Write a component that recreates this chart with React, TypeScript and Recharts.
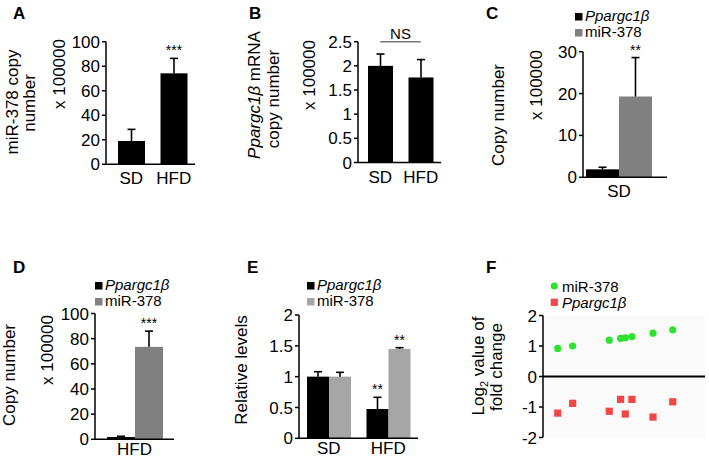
import React from "react";
import {
  Bar,
  BarChart,
  CartesianGrid,
  ReferenceLine,
  Scatter,
  ScatterChart,
  XAxis,
  YAxis,
} from "recharts";

// A / B: copy numbers by diet (x 100000)
const diets = ["SD", "HFD"];
const mirCopy = [19, 74.2];
const mirCopyErr = [9.5, 12.2];
const mirCopySig = ["", "***"];
const pgcCopy = [2.0, 1.76];
const pgcCopyErr = [0.245, 0.37];

// C / D: both transcripts within one diet
const sdGroup = ["SD"];
const sdPgc = [1.9];
const sdPgcErr = [0.5];
const sdMir = [19.3];
const sdMirErr = [9.3];
const sdMirSig = ["**"];
const hfdGroup = ["HFD"];
const hfdPgc = [1.8];
const hfdPgcErr = [0.6];
const hfdMir = [73.5];
const hfdMirErr = [12.5];
const hfdMirSig = ["***"];

// E: relative levels
const relPgc = [1.0, 0.475];
const relPgcErr = [0.08, 0.19];
const relPgcSig = ["", "**"];
const relMir = [1.0, 1.45];
const relMirErr = [0.07, 0.02];
const relMirSig = ["", "**"];

// F: log2 fold change per sample
const samplePos = [9.1, 18.3, 40.9, 47.9, 50.8, 54.9, 67.9, 80.1];
const fcMir = [0.92, 1.0, 1.19, 1.25, 1.27, 1.31, 1.42, 1.53];
const fcPgc = [-1.2, -0.88, -1.14, -0.75, -1.23, -0.75, -1.33, -0.83];

const ticksA = [0, 20, 40, 60, 80, 100];
const ticksB = [0, 0.5, 1, 1.5, 2, 2.5];
const ticksC = [0, 10, 20, 30];
const ticksE = [0, 0.5, 1, 1.5, 2];
const ticksF = [-2, -1, 0, 1, 2];

const FONT = '"Liberation Sans", Arial, Helvetica, sans-serif';
const GRAY_DARK = "#808080";
const GRAY_LIGHT = "#a6a6a6";
const GREEN = "#2fe22f";
const RED = "#f04646";

const axisLine = { stroke: "#000", strokeWidth: 1.5 };
const tickStyle = { fill: "#000", fontSize: 17 };
const catTick = { fill: "#000", fontSize: 17 };

const dataA = diets.map((d, i) => ({ name: d, v: mirCopy[i], e: mirCopyErr[i], s: mirCopySig[i] }));
const dataB = diets.map((d, i) => ({ name: d, v: pgcCopy[i], e: pgcCopyErr[i], s: "" }));
const dataC = sdGroup.map((d, i) => ({
  name: d, p: sdPgc[i], pe: sdPgcErr[i], ps: "", m: sdMir[i], me: sdMirErr[i], ms: sdMirSig[i],
}));
const dataD = hfdGroup.map((d, i) => ({
  name: d, p: hfdPgc[i], pe: hfdPgcErr[i], ps: "", m: hfdMir[i], me: hfdMirErr[i], ms: hfdMirSig[i],
}));
const dataE = diets.map((d, i) => ({
  name: d, p: relPgc[i], pe: relPgcErr[i], ps: relPgcSig[i], m: relMir[i], me: relMirErr[i], ms: relMirSig[i],
}));
const dataFMir = samplePos.map((x, i) => ({ x, y: fcMir[i] }));
const dataFPgc = samplePos.map((x, i) => ({ x, y: fcPgc[i] }));

// bar + upper whisker + significance stars, sized from the bar's own scale
function barWithError(valueKey: string, errKey: string, sigKey: string) {
  return (props: any) => {
    const { x, y, width, height, fill, payload } = props;
    const v = payload[valueKey];
    const e = payload[errKey] ?? 0;
    const unit = v ? height / v : 0;
    const cx = x + width / 2;
    const top = y - e * unit;
    const sig = payload[sigKey];
    return (
      <g>
        <rect x={x} y={y} width={width} height={height} fill={fill} />
        {e > 0 && (
          <>
            <line x1={cx} x2={cx} y1={y} y2={top} stroke="#000" strokeWidth={1.6} />
            <line x1={cx - 4} x2={cx + 4} y1={top} y2={top} stroke="#000" strokeWidth={1.6} />
          </>
        )}
        {sig && (
          <text x={cx} y={top - 3} textAnchor="middle" fontSize={14} fill="#000">
            {sig}
          </text>
        )}
      </g>
    );
  };
}

function Box({ left, top, children }: { left: number; top: number; children: React.ReactNode }) {
  return <div style={{ position: "absolute", left, top }}>{children}</div>;
}

function VTitle({ x, y, children, size = 17 }: { x: number; y: number; children: React.ReactNode; size?: number }) {
  return (
    <text x={x} y={y} transform={`rotate(-90 ${x} ${y})`} textAnchor="middle" fontSize={size} fill="#000">
      {children}
    </text>
  );
}

function Letter({ x, y, t }: { x: number; y: number; t: string }) {
  return (
    <text x={x} y={y} fontSize={17} fontWeight="bold" fill="#000">
      {t}
    </text>
  );
}

function SquareKey({ x, y, color, children }: { x: number; y: number; color: string; children: React.ReactNode }) {
  return (
    <g>
      <rect x={x} y={y - 7} width={7.5} height={7.5} fill={color} />
      <text x={x + 10} y={y + 0.5} fontSize={15} fill="#000">
        {children}
      </text>
    </g>
  );
}

const Pgc = () => <tspan fontStyle="italic">Ppargc1β</tspan>;

export default function App() {
  return (
    <div
      style={{
        position: "absolute",
        left: 0,
        top: 0,
        width: 709,
        height: 462,
        background: "#fff",
        fontFamily: FONT,
        overflow: "hidden",
      }}
    >
      {/* A */}
      <Box left={0} top={0}>
        <BarChart width={230} height={215} data={dataA} barSize={27}
          margin={{ top: 41.7, right: 35, bottom: 30.7, left: 66 }}>
          <XAxis dataKey="name" axisLine={axisLine} tickLine={false} tick={catTick}
            tickSize={6} height={20} padding={{ left: 4, right: 0 }} />
          <YAxis domain={[0, 100]} ticks={ticksA} width={40} axisLine={axisLine}
            tickLine={axisLine} tickSize={4} tick={tickStyle} interval={0} />
          <Bar dataKey="v" fill="#000" isAnimationActive={false} shape={barWithError("v", "e", "s")} />
        </BarChart>
      </Box>

      {/* B */}
      <Box left={230} top={0}>
        <BarChart width={230} height={215} data={dataB} barSize={25}
          margin={{ top: 41.7, right: 19, bottom: 32.5, left: 88 }}>
          <XAxis dataKey="name" axisLine={axisLine} tickLine={false} tick={catTick}
            tickSize={6} height={20} padding={{ left: 2, right: 0 }} />
          <YAxis domain={[0, 2.5]} ticks={ticksB} width={40} axisLine={axisLine}
            tickLine={axisLine} tickSize={4} tick={tickStyle} interval={0} />
          <Bar dataKey="v" fill="#000" isAnimationActive={false} shape={barWithError("v", "e", "s")} />
          <ReferenceLine
            segment={[{ x: "SD", y: 2.5 }, { x: "HFD", y: 2.5 }]}
            stroke="#777" strokeWidth={1.5} ifOverflow="visible"
            label={{ value: "NS", position: "top", fill: "#000", fontSize: 15, offset: 3 }}
          />
        </BarChart>
      </Box>

      {/* C */}
      <Box left={460} top={0}>
        <BarChart width={249} height={215} data={dataC} barSize={33} barGap={0}
          margin={{ top: 51.7, right: 42, bottom: 17.7, left: 83 }}>
          <XAxis dataKey="name" axisLine={axisLine} tickLine={false} tick={catTick}
            tickSize={6} height={20} padding={{ left: 0, right: 12 }} />
          <YAxis domain={[0, 30]} ticks={ticksC} width={40} axisLine={axisLine}
            tickLine={axisLine} tickSize={4} tick={tickStyle} interval={0} />
          <Bar dataKey="p" fill="#000" isAnimationActive={false} shape={barWithError("p", "pe", "ps")} />
          <Bar dataKey="m" fill={GRAY_DARK} isAnimationActive={false} shape={barWithError("m", "me", "ms")} />
        </BarChart>
      </Box>

      {/* D */}
      <Box left={0} top={230}>
        <BarChart width={230} height={232} data={dataD} barSize={28} barGap={0}
          margin={{ top: 83.5, right: 56, bottom: 2.7, left: 55 }}>
          <XAxis dataKey="name" axisLine={axisLine} tickLine={false} tick={catTick}
            tickSize={2} height={20} />
          <YAxis domain={[0, 100]} ticks={ticksA} width={40} axisLine={axisLine}
            tickLine={axisLine} tickSize={4} tick={tickStyle} interval={0} />
          <Bar dataKey="p" fill="#000" isAnimationActive={false} shape={barWithError("p", "pe", "ps")} />
          <Bar dataKey="m" fill={GRAY_DARK} isAnimationActive={false} shape={barWithError("m", "me", "ms")} />
        </BarChart>
      </Box>

      {/* E */}
      <Box left={230} top={230}>
        <BarChart width={230} height={232} data={dataE} barSize={22} barGap={0}
          margin={{ top: 85, right: 42, bottom: 3.7, left: 29 }}>
          <XAxis dataKey="name" axisLine={axisLine} tickLine={false} tick={catTick}
            tickSize={2} height={20} />
          <YAxis domain={[0, 2]} ticks={ticksE} width={40} axisLine={axisLine}
            tickLine={axisLine} tickSize={4} tick={tickStyle} interval={0} />
          <Bar dataKey="p" fill="#000" isAnimationActive={false} shape={barWithError("p", "pe", "ps")} />
          <Bar dataKey="m" fill={GRAY_LIGHT} isAnimationActive={false} shape={barWithError("m", "me", "ms")} />
        </BarChart>
      </Box>

      {/* F */}
      <Box left={460} top={230}>
        <ScatterChart width={249} height={232} margin={{ top: 85.5, right: 4, bottom: 24.5, left: 43 }}>
          <CartesianGrid horizontal={false} vertical={false} fill="#fafafa" />
          <XAxis type="number" dataKey="x" domain={[0, 100]} hide />
          <YAxis type="number" dataKey="y" domain={[-2, 2]} ticks={ticksF} width={40}
            axisLine={axisLine} tickLine={axisLine} tickSize={4} tick={tickStyle} interval={0} />
          <ReferenceLine y={0} stroke="#000" strokeWidth={2} />
          <Scatter data={dataFMir} fill={GREEN} isAnimationActive={false}
            shape={(p: any) => <circle cx={p.cx} cy={p.cy} r={3.6} fill={GREEN} />} />
          <Scatter data={dataFPgc} fill={RED} isAnimationActive={false}
            shape={(p: any) => <rect x={p.cx - 3.6} y={p.cy - 3.6} width={7.2} height={7.2} fill={RED} />} />
        </ScatterChart>
      </Box>

      {/* titles, panel letters and keys */}
      <svg width={709} height={462} style={{ position: "absolute", left: 0, top: 0, pointerEvents: "none" }}>
        <Letter x={13} y={18.5} t="A" />
        <Letter x={249} y={18.5} t="B" />
        <Letter x={486} y={18.5} t="C" />
        <Letter x={13} y={273} t="D" />
        <Letter x={247} y={273} t="E" />
        <Letter x={486} y={273} t="F" />

        <VTitle x={18} y={102}>miR-378 copy</VTitle>
        <VTitle x={35} y={103}>number</VTitle>
        <VTitle x={65} y={74}>x 100000</VTitle>

        <VTitle x={260} y={95}>
          <Pgc /> mRNA
        </VTitle>
        <VTitle x={279} y={99}>copy number</VTitle>
        <VTitle x={315} y={75}>x 100000</VTitle>

        <VTitle x={504} y={115}>Copy number</VTitle>
        <VTitle x={542} y={85}>x 100000</VTitle>

        <VTitle x={15} y={375}>Copy number</VTitle>
        <VTitle x={53} y={350}>x 100000</VTitle>

        <VTitle x={247} y={370}>Relative levels</VTitle>

        <VTitle x={484} y={366}>
          <tspan>Log</tspan>
          <tspan fontSize={11} dy={4}>2</tspan>
          <tspan dy={-4}> value of</tspan>
        </VTitle>
        <VTitle x={502} y={367}>fold change</VTitle>

        <SquareKey x={575} y={20} color="#000"><Pgc /></SquareKey>
        <SquareKey x={575} y={36} color={GRAY_DARK}>miR-378</SquareKey>

        <SquareKey x={95} y={289} color="#000"><Pgc /></SquareKey>
        <SquareKey x={95} y={305} color={GRAY_DARK}>miR-378</SquareKey>

        <SquareKey x={307} y={289} color="#000"><Pgc /></SquareKey>
        <SquareKey x={307} y={305} color={GRAY_LIGHT}>miR-378</SquareKey>

        <circle cx={554.3} cy={286} r={3.6} fill={GREEN} />
        <text x={562} y={291.5} fontSize={15} fill="#000">miR-378</text>
        <rect x={550.7} y={298.7} width={7.2} height={7.2} fill={RED} />
        <text x={562} y={307.5} fontSize={15} fill="#000"><Pgc /></text>
      </svg>
    </div>
  );
}
